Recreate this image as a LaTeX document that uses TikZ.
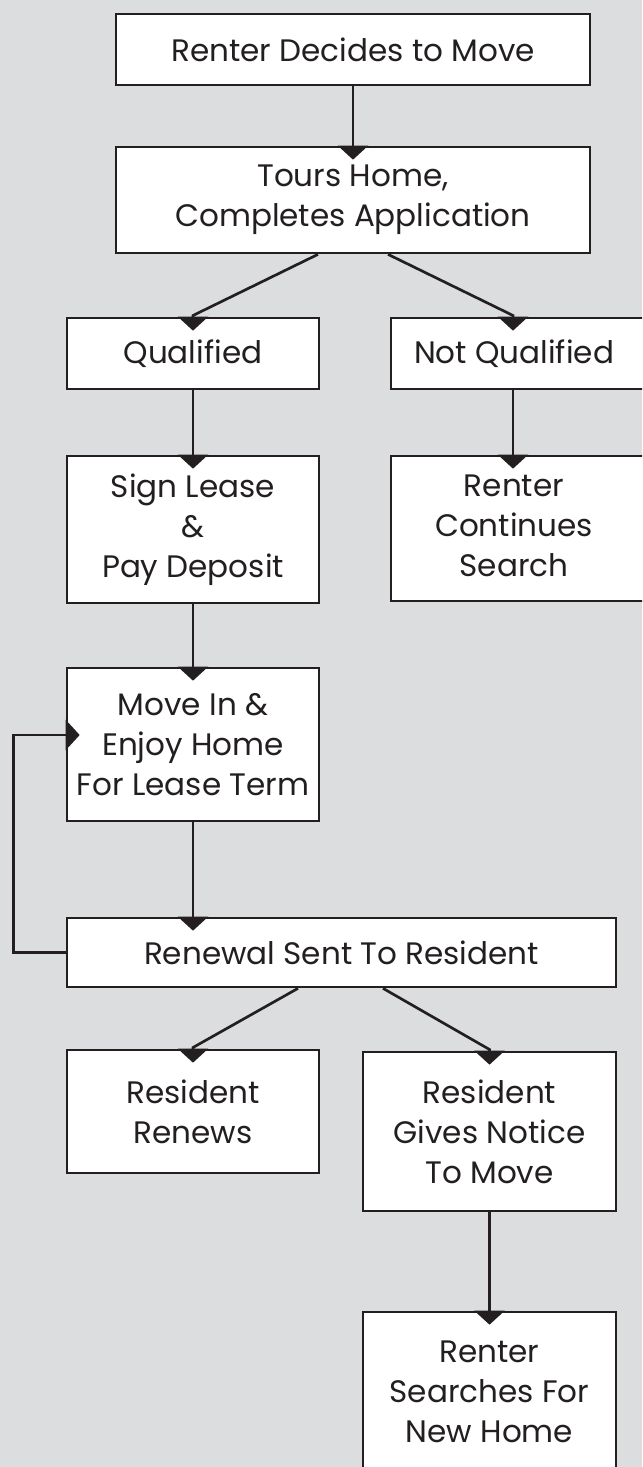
\documentclass[tikz,border=0pt]{standalone}
\usepackage{fontspec}
\setmainfont{Poppins}
\usepackage{tikz}
\usetikzlibrary{arrows.meta}

\definecolor{panel}{RGB}{220,221,223}
\definecolor{ink}{RGB}{35,31,32}

\tikzset{
    stepbox/.style = {draw = ink, fill = white, line width = 0.08cm,
        align = center, inner sep = 0pt, text = ink,
        font = \fontsize{26.5}{34}\selectfont},
    flow/.style = {draw = ink, line width = 0.08cm,
        -{Triangle[width = 0.9cm, length = 0.42cm]}, shorten > = -0.42cm}
}

\begin{document}
\begin{tikzpicture}[x = 0.03cm, y = -0.03cm]
            \clip (0,0) rectangle (642,1467);
            \fill [panel] (0,0) rectangle (642,1467);

            \node [stepbox, minimum width = 14.22cm, minimum height = 2.13cm]
                (decide) at (353, 49.5) {Renter Decides to Move};
            \node [stepbox, minimum width = 14.22cm, minimum height = 3.18cm]
                (tour) at (353, 200) {Tours Home,\\Completes Application};

            \node [stepbox, minimum width = 7.56cm, minimum height = 2.13cm]
                (qual) at (193, 353.5) {Qualified};
            \node [stepbox, minimum width = 9.27cm, minimum height = 2.13cm]
                (notqual) at (545.5, 353.5) {Not Qualified\hspace*{1.89cm}};

            \node [stepbox, minimum width = 7.56cm, minimum height = 4.41cm]
                (lease) at (193, 529.5) {Sign Lease\\\&\\Pay Deposit};
            \node [stepbox, minimum width = 9.27cm, minimum height = 4.35cm]
                (search) at (545.5, 528.5)
                {\begin{tabular}{@{}c@{}}Renter\\Continues\\Search\end{tabular}\hspace*{1.89cm}};

            \node [stepbox, minimum width = 7.56cm, minimum height = 4.59cm]
                (movein) at (193, 744.5) {Move In \&\\Enjoy Home\\For Lease Term};
            \node [stepbox, minimum width = 16.47cm, minimum height = 2.07cm]
                (renewal) at (341.5, 952.5) {Renewal Sent To Resident};

            \node [stepbox, minimum width = 7.56cm, minimum height = 3.69cm]
                (renews) at (193, 1111.5) {Resident\\Renews};
            \node [stepbox, minimum width = 7.59cm, minimum height = 4.77cm]
                (notice) at (489.5, 1131.5) {Resident\\Gives Notice\\To Move};
            \node [stepbox, minimum width = 7.59cm, minimum height = 4.8cm]
                (newhome) at (489.5, 1392) {Renter\\Searches For\\New Home};

            \draw [flow] (decide) -- (tour);
            \draw [flow] ([xshift = -1.05cm]tour.south) -- ([yshift = 1pt]qual.north)
                -- (qual.north);
            \draw [flow] ([xshift = 1.05cm]tour.south)
                -- ([xshift = -0.975cm, yshift = 1pt]notqual.north)
                -- ([xshift = -0.975cm]notqual.north);
            \draw [flow] (qual) -- (lease);
            \draw [flow] ([xshift = -0.975cm]notqual.south)
                -- ([xshift = -0.975cm]search.north);
            \draw [flow] (lease) -- (movein);
            \draw [flow] (movein.south) -- (movein.south |- renewal.north);

            % back to the lease term
            \draw [flow] (renewal.west) -- ++(-52, 0)
                |- ([yshift = 0.285cm]movein.west);

            \draw [flow] ([xshift = -1.305cm]renewal.south)
                -- ([yshift = 1pt]renews.north) -- (renews.north);
            \draw [flow] ([xshift = 1.245cm]renewal.south)
                -- ([yshift = 1pt]notice.north) -- (notice.north);
            \draw [flow] (notice) -- (newhome);
        \end{tikzpicture}
\end{document}
